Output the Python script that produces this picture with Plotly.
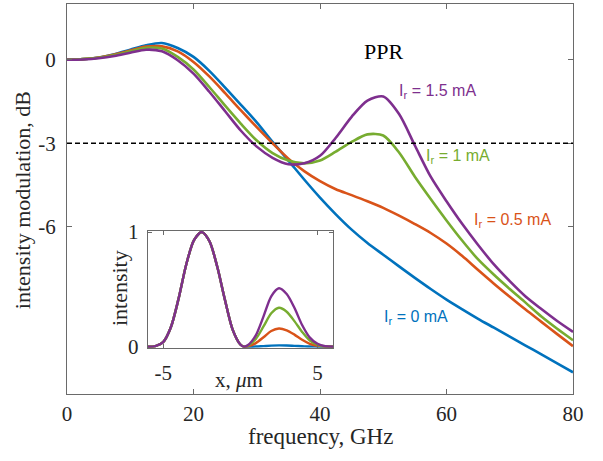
import plotly.graph_objects as go

# ---------------- main chart data ----------------
freq_ghz = [0, 2.5, 5, 7.5, 10, 12.5, 15, 17.5, 20, 22.5, 25, 27.5, 30, 32.5, 35, 37.5,
            40, 42.5, 45, 47.5, 50, 52.5, 55, 57.5, 60, 62.5, 65, 67.5, 70, 72.5, 75, 77.5, 80]

im_0ma = [0, 0.02, 0.08, 0.2, 0.36, 0.52, 0.6, 0.42, 0.1, -0.4, -1.0, -1.62, -2.25, -2.95,
          -3.62, -4.3, -4.95, -5.55, -6.1, -6.58, -7.0, -7.42, -7.83, -8.23, -8.61, -8.96, -9.3,
          -9.62, -9.94, -10.26, -10.58, -10.9, -11.22]
im_05ma = [0, 0.02, 0.08, 0.19, 0.33, 0.47, 0.48, 0.3, -0.08, -0.6, -1.2, -1.82, -2.42, -3.0,
           -3.55, -4.0, -4.36, -4.65, -4.86, -5.08, -5.32, -5.6, -5.9, -6.22, -6.6, -7.05, -7.55,
           -8.04, -8.51, -8.97, -9.41, -9.85, -10.28]
im_1ma = [0, 0.02, 0.07, 0.17, 0.3, 0.43, 0.4, 0.1, -0.35, -0.98, -1.65, -2.3, -2.9, -3.35,
          -3.62, -3.72, -3.62, -3.3, -2.95, -2.68, -2.72, -3.33, -4.2, -5.0, -5.77, -6.5, -7.17,
          -7.72, -8.23, -8.72, -9.22, -9.66, -10.07]
im_15ma = [0, 0.01, 0.05, 0.13, 0.25, 0.36, 0.3, -0.02, -0.5, -1.15, -1.85, -2.55, -3.12, -3.52,
           -3.75, -3.72, -3.45, -2.8, -2.05, -1.47, -1.32, -1.95, -3.08, -4.2, -5.08, -5.9, -6.65,
           -7.35, -7.95, -8.5, -8.95, -9.38, -9.77]

threshold_db = -3
y_tick_vals = [-6, -3, 0]
y_tick_text = ["-6", "-3", "0"]
x_tick_vals = [0, 20, 40, 60, 80]

series_labels = ["I<sub>r</sub> = 0 mA", "I<sub>r</sub> = 0.5 mA",
                 "I<sub>r</sub> = 1 mA", "I<sub>r</sub> = 1.5 mA"]
colors = ["#0072BD", "#D95319", "#77AC30", "#7E2F8E"]

# ---------------- inset data ----------------
pos_um = [-6, -5.5, -5, -4.5, -4, -3.5, -3, -2.5, -2, -1.5, -1, -0.5, 0, 0.25,
          0.5, 1, 1.5, 2, 2.5, 3, 3.5, 4, 4.5, 5, 5.5, 6]
int_0ma = [0, 0.005, 0.04, 0.17, 0.42, 0.72, 0.93, 1.0, 0.92, 0.7, 0.41, 0.15, 0.02, 0.0,
           0, 0.002, 0.006, 0.01, 0.012, 0.011, 0.008, 0.005, 0.002, 0.001, 0, 0]
int_05ma = [0, 0.005, 0.04, 0.17, 0.42, 0.72, 0.93, 1.0, 0.92, 0.7, 0.41, 0.15, 0.02, 0.0,
            0.005, 0.032, 0.083, 0.138, 0.16, 0.144, 0.106, 0.061, 0.026, 0.008, 0.002, 0]
int_1ma = [0, 0.005, 0.04, 0.17, 0.42, 0.72, 0.93, 1.0, 0.92, 0.7, 0.41, 0.15, 0.02, 0.0,
           0.01, 0.068, 0.177, 0.292, 0.34, 0.306, 0.224, 0.13, 0.054, 0.017, 0.003, 0]
int_15ma = [0, 0.005, 0.04, 0.17, 0.42, 0.72, 0.93, 1.0, 0.92, 0.7, 0.41, 0.15, 0.02, 0.0,
            0.015, 0.10, 0.265, 0.44, 0.51, 0.46, 0.34, 0.19, 0.08, 0.025, 0.005, 0]
inset_x_ticks = [-5, 5]
inset_x_text = ["-5", "5"]
inset_y_ticks = [0, 1]

SERIF = "Liberation Serif, Times New Roman, serif"
SANS = "Liberation Sans, Arial, sans-serif"
AXC = "#6a6a6a"
TXT = "#262626"

fig = go.Figure()

for ys, c in zip([im_0ma, im_05ma, im_1ma, im_15ma], colors):
    fig.add_trace(go.Scatter(x=freq_ghz, y=ys, mode="lines",
                             line=dict(color=c, width=2.6, shape="spline", smoothing=0.8),
                             xaxis="x", yaxis="y", hoverinfo="skip"))

for ys, c in zip([int_0ma, int_05ma, int_1ma, int_15ma], colors):
    fig.add_trace(go.Scatter(x=pos_um, y=ys, mode="lines",
                             line=dict(color=c, width=2.4, shape="spline", smoothing=0.8),
                             xaxis="x2", yaxis="y2", hoverinfo="skip"))

fig.add_shape(type="line", xref="x domain", yref="y", x0=0, x1=1,
              y0=threshold_db, y1=threshold_db,
              line=dict(color="black", width=1.4, dash="5px,3px"))

axis_common = dict(showline=True, linecolor=AXC, linewidth=1, mirror="ticks",
                   ticks="inside", tickcolor=AXC, showgrid=False, zeroline=False,
                   automargin=False)

fig.update_layout(
    width=603, height=461,
    margin=dict(l=67, r=30, t=4, b=67),
    paper_bgcolor="white", plot_bgcolor="white",
    showlegend=False,
    font=dict(family=SERIF, size=21, color=TXT),
    xaxis=dict(domain=[0, 1], range=[0, 80], tickvals=x_tick_vals, ticklen=5,
               ticklabelstandoff=1, anchor="y", **axis_common),
    yaxis=dict(domain=[0, 1], range=[-12, 2], tickvals=y_tick_vals, ticktext=y_tick_text,
               ticklen=5, ticklabelstandoff=6, anchor="x", **axis_common),
    xaxis2=dict(domain=[0.1595, 0.5257], range=[-6, 6], tickvals=inset_x_ticks,
                ticktext=inset_x_text, ticklen=4, ticklabelstandoff=6,
                anchor="y2", tickfont=dict(size=21), **axis_common),
    yaxis2=dict(domain=[0.1187, 0.418], range=[-0.008, 1.01], tickvals=inset_y_ticks,
                ticklen=4, ticklabelstandoff=4,
                anchor="x2", tickfont=dict(size=21), **axis_common),
)

# main axis titles
fig.add_annotation(x=0.5, y=-0.110, xref="paper", yref="paper", text="frequency, GHz",
                   showarrow=False, font=dict(family=SERIF, size=23, color=TXT),
                   xanchor="center", yanchor="middle")
fig.add_annotation(x=-0.089, y=0.497, xref="paper", yref="paper",
                   text="intensity modulation, dB", textangle=-90,
                   showarrow=False, font=dict(family=SERIF, size=22, color=TXT),
                   xanchor="center", yanchor="middle")

# inset axis titles
fig.add_annotation(x=0.34, y=0.036, xref="paper", yref="paper", text="x, <i>μ</i>m",
                   showarrow=False, font=dict(family=SERIF, size=21, color=TXT),
                   xanchor="center", yanchor="middle")
fig.add_annotation(x=0.105, y=0.272, xref="paper", yref="paper", text="intensity",
                   showarrow=False, textangle=-90, font=dict(family=SERIF, size=22, color=TXT),
                   xanchor="center", yanchor="middle")

# PPR label
fig.add_annotation(x=50.1, y=0.3, xref="x", yref="y", text="PPR", showarrow=False,
                   font=dict(family=SERIF, size=22, color="black"))

# series labels
label_pos = [(55.1, -9.25), (70.5, -5.77), (61.85, -3.48), (58.5, -1.15)]
for (lx, ly), t, c in zip(label_pos, series_labels, colors):
    fig.add_annotation(x=lx, y=ly, xref="x", yref="y", text=t, showarrow=False,
                       font=dict(family=SANS, size=16, color=c),
                       xanchor="center", yanchor="middle")

fig.write_html("out.html", config={"displayModeBar": False},
               post_script="document.body.style.margin='0';")
